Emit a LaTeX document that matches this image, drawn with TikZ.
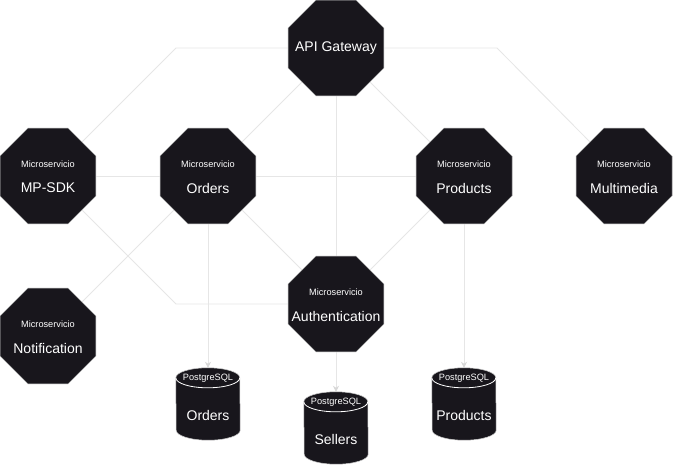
\documentclass[tikz,border=0pt]{standalone}
\usepackage{fontspec}
\setmainfont{Liberation Sans}
\usetikzlibrary{shapes.geometric,arrows.meta}
\definecolor{nodefill}{RGB}{24,22,28}
\definecolor{edgecol}{RGB}{230,230,230}
\definecolor{arrowcol}{RGB}{215,215,215}
\definecolor{bordercol}{RGB}{205,205,205}
\tikzset{
  octa/.style={regular polygon, regular polygon sides=8, minimum size=103.9pt, inner sep=0pt, fill=nodefill, draw=bordercol, line width=0.5pt},
  dbbox/.style={rectangle, minimum width=64pt, minimum height=72pt, inner sep=0pt},
  smalltxt/.style={text=white, font=\fontsize{9.2}{10}\selectfont, inner sep=0pt},
  bigtxt/.style={text=white, font=\fontsize{14}{16}\selectfont, inner sep=0pt},
  conn/.style={draw=edgecol, line width=0.8pt},
  arr/.style={conn, -{Stealth[length=6pt,width=6pt,color=arrowcol]}},
}
\newcommand{\dbdraw}[1]{%
  \path[fill=nodefill, draw=bordercol, line width=0.5pt] ([yshift=-10pt]#1.north west) arc[start angle=180,end angle=0,x radius=32pt,y radius=10pt] -- ([yshift=10pt]#1.south east) arc[start angle=0,end angle=-180,x radius=32pt,y radius=10pt] -- cycle;
  \draw[white, line width=0.8pt] ([yshift=-10pt]#1.north west) arc[start angle=180,end angle=360,x radius=32pt,y radius=10pt];
}
\begin{document}
\begin{tikzpicture}[x=1pt,y=1pt]
\useasboundingbox[fill=white] (0,0) rectangle (674,-468);

% octagon nodes
\node[octa] (api) at (336,-48) {};
\node[octa] (mpsdk) at (48,-176) {};
\node[octa] (orders) at (208,-176) {};
\node[octa] (products) at (464,-176) {};
\node[octa] (multi) at (624,-176) {};
\node[octa] (auth) at (336,-304) {};
\node[octa] (notif) at (48,-336) {};

% database nodes
\node[dbbox] (odb) at (208,-404) {};
\node[dbbox] (sdb) at (336,-428) {};
\node[dbbox] (pdb) at (464,-404) {};

% connectors
\coordinate (k1) at (176,-48);
\coordinate (k2) at (497,-48);
\coordinate (k3) at (176,-304);

\draw[conn] (api.west) -- (k1) -- (mpsdk.45);
\draw[conn] (api.east) -- (k2) -- (multi.135);
\draw[conn] (api.225) -- (orders.45);
\draw[conn] (api.315) -- (products.135);
\draw[conn] (api.south) -- (auth.north);
\draw[conn] (mpsdk.east) -- (orders.west);
\draw[conn] (orders.east) -- (products.west);
\draw[conn] (mpsdk.315) -- (k3) -- (auth.west);
\draw[conn] (orders.225) -- (notif.45);
\draw[conn] (orders.315) -- (auth.135);
\draw[conn] (products.225) -- (auth.45);
\draw[arr] (orders.south) -- (odb.north);
\draw[arr] (products.south) -- (pdb.north);
\draw[arr] (auth.south) -- (sdb.north);

% redraw octagons on top of lines
\foreach \n in {api,mpsdk,orders,products,multi,auth,notif}{
  \node[octa] at (\n.center) {};
}

\dbdraw{odb}
\dbdraw{sdb}
\dbdraw{pdb}

% texts
\node[bigtxt] (t-api) at (336,-48) {API Gateway};
\node[smalltxt] (s-mpsdk) at (48,-164) {Microservicio};
\node[bigtxt] (t-mpsdk) at (48,-188) {MP-SDK};
\node[smalltxt] (s-orders) at (208,-164) {Microservicio};
\node[bigtxt] (t-orders) at (208,-188) {Orders};
\node[smalltxt] (s-products) at (464,-164) {Microservicio};
\node[bigtxt] (t-products) at (464,-188) {Products};
\node[smalltxt] (s-multi) at (624,-164) {Microservicio};
\node[bigtxt] (t-multi) at (624,-188) {Multimedia};
\node[smalltxt] (s-auth) at (336,-292) {Microservicio};
\node[bigtxt] (t-auth) at (336,-316) {Authentication};
\node[smalltxt] (s-notif) at (48,-324) {Microservicio};
\node[bigtxt] (t-notif) at (48,-348) {Notification};

\node[smalltxt] (p-odb) at (208,-378) {PostgreSQL};
\node[bigtxt] (d-odb) at (208,-415) {Orders};
\node[smalltxt] (p-sdb) at (336,-402) {PostgreSQL};
\node[bigtxt] (d-sdb) at (336,-439) {Sellers};
\node[smalltxt] (p-pdb) at (464,-378) {PostgreSQL};
\node[bigtxt] (d-pdb) at (464,-415) {Products};
\end{tikzpicture}
\end{document}
